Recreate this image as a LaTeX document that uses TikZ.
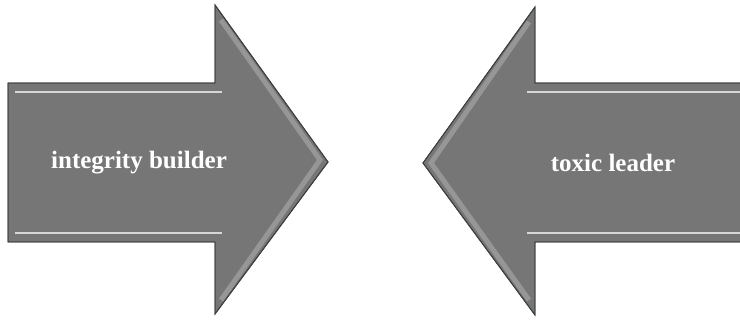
\documentclass[tikz,border=0pt]{standalone}
\usepackage{fontspec}
\setmainfont{Liberation Serif}
\definecolor{arrowfill}{RGB}{118,118,118}
\definecolor{arrowedge}{RGB}{60,64,60}
\definecolor{bevel}{RGB}{215,215,215}
\definecolor{headlight}{RGB}{150,150,150}
\tikzset{
  bigarrow/.style={fill=arrowfill, draw=arrowedge, line width=0.9pt, line join=miter},
  hilite/.style={draw=bevel, line width=2.6pt},
  headbevel/.style={draw=headlight, line width=5pt},
  label/.style={text=white, font=\bfseries\fontsize{25}{28}\selectfont, inner sep=0pt}
}
\begin{document}
\begin{tikzpicture}[x=1pt,y=-1pt]
\useasboundingbox (0,0) rectangle (740,320);
% left arrow
\draw[bigarrow] (8,83) -- (215,83) -- (215,5) -- (328,162) -- (215,314) -- (215,242) -- (8,242) -- cycle;
\draw[headbevel] (221,20) -- (320,160) -- (221,300);
\draw[hilite] (15,92) -- (222,92);
\draw[hilite] (15,233) -- (222,233);
\draw[bigarrow, fill=none] (8,83) -- (215,83) -- (215,5) -- (328,162) -- (215,314) -- (215,242) -- (8,242) -- cycle;
\node[label] (ib) at (139,163) {integrity builder};
% right arrow
\draw[bigarrow] (741,83) -- (535,83) -- (535,7) -- (423,163) -- (535,315) -- (535,242) -- (741,242);
\draw[headbevel] (529,22) -- (431,163) -- (529,300);
\draw[hilite] (527,92) -- (740,92);
\draw[hilite] (527,233) -- (740,233);
\draw[bigarrow, fill=none] (741,83) -- (535,83) -- (535,7) -- (423,163) -- (535,315) -- (535,242) -- (741,242);
\node[label] (tl) at (613,163) {toxic leader};
\end{tikzpicture}
\end{document}
